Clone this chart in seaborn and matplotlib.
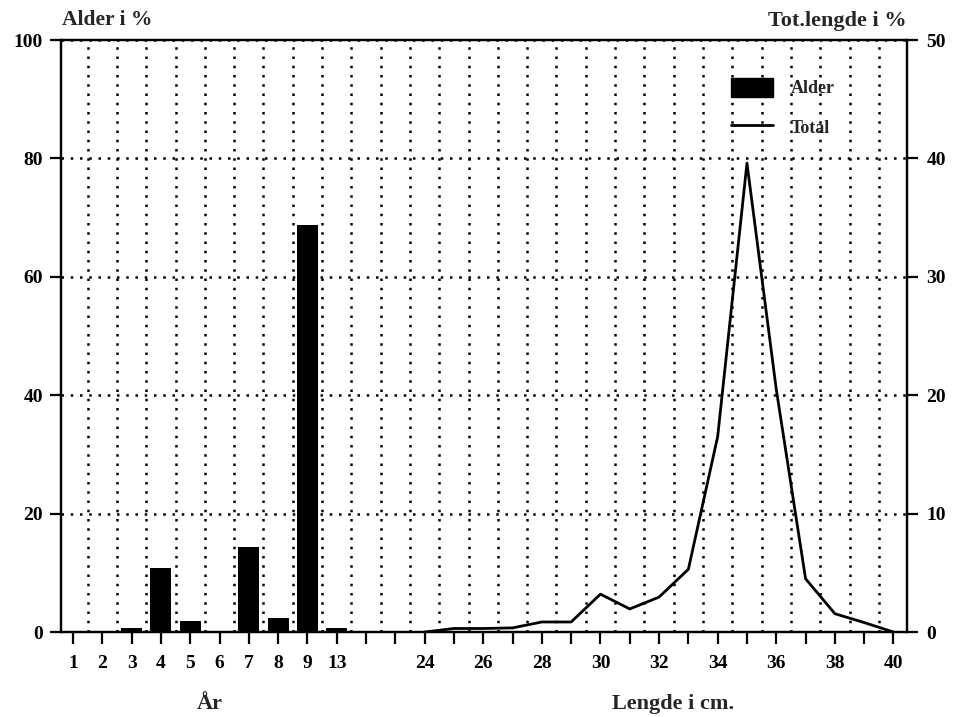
import numpy as np
import pandas as pd
import matplotlib
matplotlib.use("Agg")
import matplotlib.pyplot as plt
import seaborn as sns
from matplotlib.patches import Patch
from matplotlib.lines import Line2D

# Age distribution (percent of fish per age class)
ages = ["1", "2", "3", "4", "5", "6", "7", "8", "9", "13"]
alder_pct = [0.0, 0.0, 0.6, 10.9, 1.9, 0.0, 14.4, 2.3, 68.7, 0.6]

# Total length distribution (percent of fish per cm class)
lengths = [24, 25, 26, 27, 28, 29, 30, 31, 32, 33, 34, 35, 36, 37, 38, 39, 40]
total_pct = [0.0, 0.3, 0.3, 0.35, 0.85, 0.85, 3.2, 1.95, 2.95, 5.3,
             16.5, 39.6, 20.5, 4.5, 1.55, 0.8, 0.0]

left_ticks = [0, 20, 40, 60, 80, 100]
right_ticks = [0, 10, 20, 30, 40, 50]
gap_slots = 2  # empty slots separating the two groups on the shared x axis

sns.set_theme(style="white")
plt.rcParams["font.family"] = ["Liberation Serif", "DejaVu Serif"]

age_pos = np.arange(len(ages))
len_pos = np.arange(len(lengths)) + len(ages) + gap_slots
df_age = pd.DataFrame({"pos": age_pos, "pct": alder_pct})
df_len = pd.DataFrame({"pos": len_pos, "pct": total_pct})

tick_labels = ages + [""] * gap_slots + [str(l) if l % 2 == 0 else "" for l in lengths]
all_pos = np.arange(len(tick_labels))

fig = plt.figure(figsize=(9.56, 7.17), dpi=100)
ax = fig.add_axes([0.0638, 0.1185, 0.8849, 0.8257])

sns.barplot(data=df_age, x="pos", y="pct", native_scale=True, width=0.72,
            color="black", saturation=1, errorbar=None, linewidth=0, ax=ax)

ax2 = ax.twinx()
sns.lineplot(data=df_len, x="pos", y="pct", color="black", linewidth=2.0,
             ax=ax2, errorbar=None)

ax.set_xlim(-0.41, len(tick_labels) - 0.54)
ax.set_ylim(0, 100)
ax2.set_ylim(0, 50)

ax.set_xticks(all_pos)
ax.set_xticklabels(tick_labels)
ax.set_xticks(np.arange(0.5, len(tick_labels) - 1, 1), minor=True)
ax.set_yticks(left_ticks)
ax.set_yticklabels([str(v) for v in left_ticks])
ax2.set_yticks(right_ticks)
ax2.set_yticklabels([str(v) for v in right_ticks])

ax.set_xlabel("")
ax.set_ylabel("")
ax2.set_xlabel("")
ax2.set_ylabel("")

dotted = (0, (1, 2.7))
ax.grid(False)
ax2.grid(False)
ax.grid(True, which="minor", axis="x", color="black", linestyle=dotted, linewidth=1.8)
ax.grid(True, which="major", axis="y", color="black", linestyle=dotted, linewidth=1.8)
ax.set_axisbelow(True)

for a in (ax, ax2):
    for s in a.spines.values():
        s.set_visible(True)
        s.set_color("black")
        s.set_linewidth(1.6)

ax.tick_params(axis="x", which="major", bottom=True, direction="out", length=8.5,
               width=1.6, color="black", pad=8, labelsize=14)
ax.tick_params(axis="x", which="minor", bottom=False, length=0)
ax.tick_params(axis="y", left=True, direction="out", length=8, width=1.6,
               color="black", pad=5, labelsize=14)
ax2.tick_params(axis="y", right=True, direction="out", length=8, width=1.6,
                color="black", pad=6, labelsize=14)
for lab in ax.get_xticklabels() + ax.get_yticklabels() + ax2.get_yticklabels():
    lab.set_fontweight("bold")
    lab.set_color("black")

handles = [Patch(facecolor="black", edgecolor="black", label="Alder"),
           Line2D([], [], color="black", linewidth=2.0, label="Total")]
ax2.legend(handles=handles, loc="upper left", bbox_to_anchor=(0.7647, 0.8912),
           bbox_transform=fig.transFigure, frameon=False,
           prop={"size": 13, "weight": "bold"},
           handlelength=2.3, handleheight=1.2, labelspacing=1.1,
           handletextpad=1.0, borderpad=0, borderaxespad=0)

fig.text(62 / 956, 1 - 25 / 717, "Alder i %", ha="left", va="baseline",
         fontsize=15.5, fontweight="bold")
fig.text(907 / 956, 1 - 26 / 717, "Tot.lengde i %", ha="right", va="baseline",
         fontsize=16, fontweight="bold")
fig.text(210 / 956, 1 - 709 / 717, "År", ha="center", va="baseline",
         fontsize=16, fontweight="bold")
fig.text(673 / 956, 1 - 709 / 717, "Lengde i cm.", ha="center", va="baseline",
         fontsize=16, fontweight="bold")

fig.savefig("out.png", dpi=100, facecolor="white")
